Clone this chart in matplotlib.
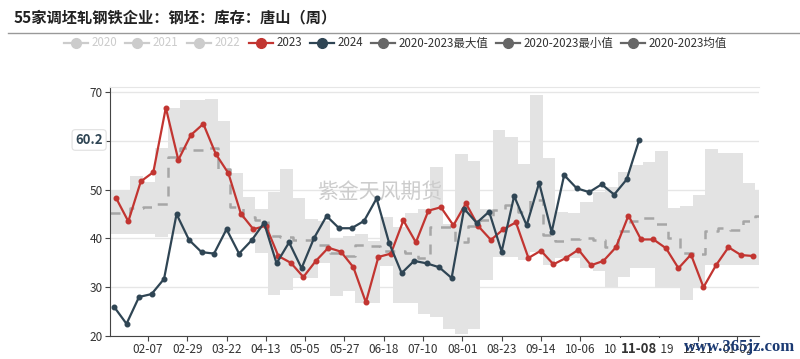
import matplotlib
matplotlib.use("Agg")
import matplotlib.pyplot as plt
from matplotlib.lines import Line2D
from datetime import datetime, timedelta

plt.rcParams['font.family'] = ['Noto Sans CJK SC', 'DejaVu Sans']

# weekly values (2023 mapped onto the 2024 calendar)
val_2023 = [48.4, 43.5, 51.7, 53.6, 66.8, 56.1, 61.2, 63.5, 57.3, 53.4,
            45.1, 41.9, 42.6, 36.4, 35.0, 32.1, 35.4, 38.1, 37.3, 34.1,
            26.9, 36.2, 36.9, 43.7, 39.2, 45.7, 46.4, 42.7, 47.2, 42.5,
            39.7, 41.9, 43.3, 36.0, 37.5, 34.7, 36.0, 37.7, 34.5, 35.4,
            38.2, 44.7, 39.8, 39.8, 38.0, 33.9, 36.7, 30.0, 34.5, 38.2,
            36.6, 36.4]
val_2024 = [26.0, 22.5, 28.0, 28.6, 31.7, 45.0, 39.7, 37.2, 36.9, 41.9,
            36.9, 39.6, 43.2, 34.9, 39.2, 33.9, 40.1, 44.6, 42.1, 42.1,
            43.6, 48.2, 39.1, 32.9, 35.4, 34.9, 34.1, 31.9, 46.1, 43.2,
            45.5, 37.3, 48.7, 42.7, 51.4, 41.3, 53.0, 50.3, 49.5, 51.1,
            49.0, 52.1, 60.2]
# 2020-2023 max / min / mean
band_max = [50.0, 52.8, 51.6, 58.5, 66.8, 68.3, 68.4, 68.5, 64.0, 53.4,
            48.6, 46.1, 49.6, 54.2, 48.2, 44.0, 43.5, 40.0, 40.5, 40.9,
            39.5, 44.5, 42.4, 45.3, 46.0, 54.6, 43.0, 57.3, 55.9, 46.0,
            62.3, 60.9, 55.3, 69.4, 56.6, 45.5, 45.3, 47.5, 49.6, 50.6,
            53.7, 55.1, 55.7, 58.0, 46.2, 46.6, 48.9, 58.3, 57.6, 57.5,
            51.3, 49.9]
band_min = [40.9, 40.9, 40.9, 40.2, 40.9, 40.9, 40.9, 40.9, 40.9, 40.9,
            40.9, 37.1, 28.4, 29.5, 31.9, 31.9, 35.0, 28.3, 29.2, 26.8,
            26.8, 34.3, 26.8, 26.8, 24.6, 23.9, 21.5, 20.5, 21.5, 31.4,
            36.2, 36.2, 35.5, 37.3, 34.5, 36.0, 36.0, 33.9, 33.4, 30.1,
            32.1, 34.0, 34.0, 29.9, 29.9, 27.3, 29.9, 34.5, 34.5, 34.5,
            34.5, 34.5]
band_avg = [45.3, 46.3, 46.4, 47.0, 56.7, 58.5, 58.1, 58.5, 54.2, 46.5,
            44.4, 43.8, 40.5, 40.3, 39.7, 39.7, 38.6, 37.0, 36.5, 38.6,
            38.5, 37.5, 37.5, 37.0, 36.0, 42.4, 42.4, 39.3, 42.5, 43.8,
            45.8, 46.9, 45.5, 47.8, 40.7, 39.5, 39.8, 40.0, 39.7, 38.3,
            41.5, 43.6, 44.2, 43.0, 40.0, 37.0, 36.9, 41.6, 42.2, 41.7,
            43.5, 44.7]
tick_labels = ['02-07', '02-29', '03-22', '04-13', '05-05', '05-27', '06-18',
               '07-10', '08-01', '08-23', '09-14', '10-06', '10-28', '11-19',
               '12-11', '01-02']
y_labels = ['20', '30', '40', '50', '', '70']  # 60 sits under the pointer label

d23 = [datetime(2024, 1, 20) + timedelta(days=7 * i) for i in range(len(val_2023))]
d24 = [datetime(2024, 1, 19) + timedelta(days=7 * i) for i in range(len(val_2024))]
dband = [datetime(2024, 1, 21) + timedelta(days=7 * i) for i in range(len(band_max))]
x_lo = datetime(2024, 1, 16, 18)
x_hi = datetime(2025, 1, 14, 2)
bx = [x_lo] + dband + [x_hi]
bmax = [band_max[0]] + band_max + [band_max[-1]]
bmin = [band_min[0]] + band_min + [band_min[-1]]
bavg = [band_avg[0]] + band_avg + [band_avg[-1]]
ticks = [datetime(2024, 2, 7) + timedelta(days=22 * i) for i in range(len(tick_labels))]

fig = plt.figure(figsize=(8, 3.59), dpi=100)
ax = fig.add_axes([110 / 800, 23 / 359, 649 / 800, 248.7 / 359])

ax.fill_between(bx, bmin, bmax, step='post', color='#e3e3e3', lw=0, zorder=1)
ax.plot(bx, bavg, drawstyle='steps-post', ls=(0, (4, 3.5)), color='#a6a6a6', lw=1.8, zorder=2)
ax.plot(d23, val_2023, color='#c23531', lw=1.6, marker='o', ms=3.3, zorder=4)
ax.plot(d24, val_2024, color='#2f4554', lw=1.6, marker='o', ms=3.3, zorder=5)

ax.set_xlim(x_lo, x_hi)
ax.set_ylim(20, 71)
ax.set_yticks([20, 30, 40, 50, 60, 70])
ax.set_yticklabels(y_labels)
ax.set_xticks(ticks)
ax.set_xticklabels(tick_labels)
ax.grid(axis='y', color='#e6e6e6', lw=1, zorder=0)
ax.set_axisbelow(True)
ax.spines['right'].set_visible(False)
ax.spines['top'].set_color('#e6e6e6')
ax.spines['left'].set_color('#444444')
ax.spines['bottom'].set_color('#444444')
ax.tick_params(axis='both', colors='#444444', labelcolor='#333333', labelsize=8.5,
               length=3.5, pad=1.5)

ax.text(0.416, 0.58, '紫金天风期货', transform=ax.transAxes, fontsize=15,
        color='#cccccc', ha='center', va='center', zorder=3)

# axis pointer labels
ax.text(-0.011, 60.2, '60.2', transform=ax.get_yaxis_transform(), ha='right', va='center',
        fontsize=9.5, fontweight='bold', color='#2f4554', clip_on=False, zorder=10,
        bbox=dict(boxstyle='round,pad=0.25', fc='white', ec='#e0e0e0', lw=0.8))
ax.text(datetime(2024, 11, 8), -0.052, '11-08', transform=ax.get_xaxis_transform(),
        ha='center', va='center', fontsize=9.5, fontweight='bold', color='#333333',
        clip_on=False, zorder=10,
        bbox=dict(boxstyle='square,pad=0.3', fc='white', ec='none'))

# title and separator
fig.text(14 / 800, 1 - 17 / 359, '55家调坯轧钢铁企业：钢坯：库存：唐山（周）',
         fontsize=11, fontweight='bold', color='#222222', va='center')
fig.add_artist(Line2D([8 / 800, 1], [1 - 33 / 359] * 2, color='#999999', lw=1,
                      transform=fig.transFigure))

# legend
legend_items = [
    (76, '2020', '#cccccc', '#cccccc'),
    (137, '2021', '#cccccc', '#cccccc'),
    (199, '2022', '#cccccc', '#cccccc'),
    (261, '2023', '#c23531', '#333333'),
    (322, '2024', '#2f4554', '#333333'),
    (383, '2020-2023最大值', '#666666', '#333333'),
    (508, '2020-2023最小值', '#666666', '#333333'),
    (633, '2020-2023均值', '#666666', '#333333'),
]
ly = 1 - 43 / 359
for lx, label, col, tcol in legend_items:
    fig.add_artist(Line2D([(lx - 12) / 800, (lx + 12) / 800], [ly, ly], color=col, lw=1.6,
                          transform=fig.transFigure))
    fig.add_artist(Line2D([lx / 800], [ly], color=col, marker='o', ms=7,
                          transform=fig.transFigure))
    fig.text((lx + 16) / 800, ly, label, fontsize=8.3, color=tcol, va='center')

fig.text(795 / 800, 1 - 347 / 359, 'www.365jz.com', family='Liberation Serif',
         fontsize=12, fontweight='bold', color='#1b3a73', ha='right', va='center', zorder=20)

fig.savefig('out.png', dpi=100, facecolor='white')
